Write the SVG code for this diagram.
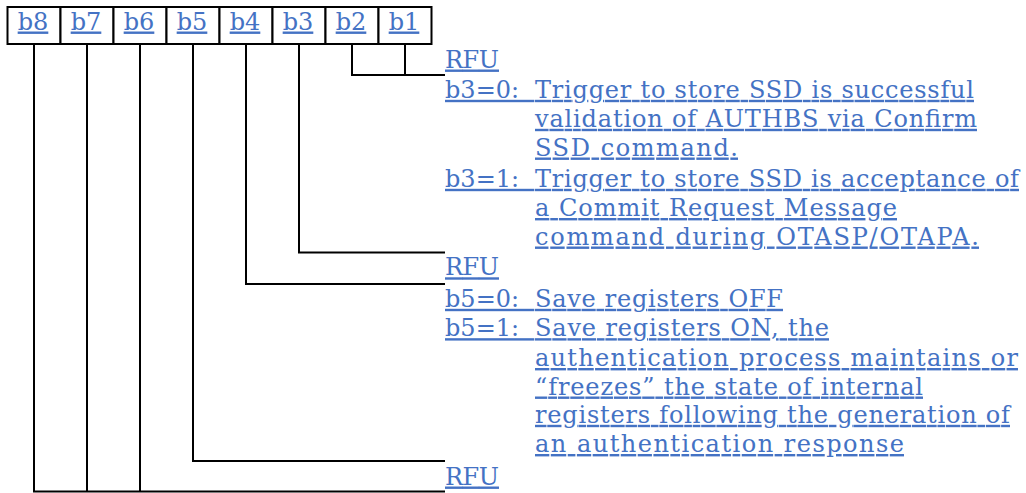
<svg xmlns="http://www.w3.org/2000/svg" width="1026" height="493" viewBox="0 0 1026 493">
<style>
.t{font-family:"DejaVu Serif","Liberation Serif",serif;font-size:24px;fill:#4472C4;text-decoration:underline;text-decoration-thickness:2px;}
.b{font-family:"DejaVu Serif","Liberation Serif",serif;font-size:24px;fill:#4472C4;text-decoration:underline;text-decoration-thickness:2px;text-anchor:middle;}
.cell{fill:#fff;stroke:#000;stroke-width:2;}
.ln{fill:none;stroke:#000;stroke-width:2;}
</style>
<rect width="1026" height="493" fill="#fff"/>
<g id="bits">
<g id="b8"><rect class="cell" x="7.5" y="7" width="53" height="37"/><text class="b" x="33" y="29.5">b8</text></g>
<g id="b7"><rect class="cell" x="60.5" y="7" width="53" height="37"/><text class="b" x="86" y="29.5">b7</text></g>
<g id="b6"><rect class="cell" x="113.5" y="7" width="53" height="37"/><text class="b" x="139" y="29.5">b6</text></g>
<g id="b5"><rect class="cell" x="166.5" y="7" width="53" height="37"/><text class="b" x="192" y="29.5">b5</text></g>
<g id="b4"><rect class="cell" x="219.5" y="7" width="53" height="37"/><text class="b" x="245" y="29.5">b4</text></g>
<g id="b3"><rect class="cell" x="272.5" y="7" width="53" height="37"/><text class="b" x="298" y="29.5">b3</text></g>
<g id="b2"><rect class="cell" x="325.5" y="7" width="53" height="37"/><text class="b" x="351" y="29.5">b2</text></g>
<g id="b1"><rect class="cell" x="378.5" y="7" width="53" height="37"/><text class="b" x="404" y="29.5">b1</text></g>
</g>
<g id="connectors">
<path class="ln" d="M352 44V75H445M405 44V75"/>
<path class="ln" d="M299 44V252.5H445"/>
<path class="ln" d="M246 44V284H445"/>
<path class="ln" d="M193 44V461H445"/>
<path class="ln" d="M34 44V491.5H445M87 44V491.5M140 44V491.5"/>
</g>
<g id="desc-b1b2"><text class="t" x="445" y="67.5" textLength="54">RFU</text></g>
<g id="desc-b3">
<text class="t" xml:space="preserve" y="97.8"><tspan x="445">b3=0:  </tspan><tspan x="535" textLength="439">Trigger to store SSD is successful</tspan></text>
<text class="t" x="535" y="126.8" textLength="442">validation of AUTHBS via Confirm</text>
<text class="t" x="535" y="155.5" textLength="203">SSD command.</text>
<text class="t" xml:space="preserve" y="186.8"><tspan x="445">b3=1:  </tspan><tspan x="535" textLength="484">Trigger to store SSD is acceptance of</tspan></text>
<text class="t" x="535" y="216" textLength="362">a Commit Request Message</text>
<text class="t" x="535" y="244.5" textLength="444">command during OTASP/OTAPA.</text>
</g>
<g id="desc-b4"><text class="t" x="445" y="275.3" textLength="54">RFU</text></g>
<g id="desc-b5">
<text class="t" xml:space="preserve" y="306.8"><tspan x="445">b5=0:  </tspan><tspan x="535" textLength="248">Save registers OFF</tspan></text>
<text class="t" xml:space="preserve" y="336.2"><tspan x="445">b5=1:  </tspan><tspan x="535" textLength="294">Save registers ON, the</tspan></text>
<text class="t" x="535" y="366" textLength="483">authentication process maintains or</text>
<text class="t" x="535" y="394.5" textLength="388">“freezes” the state of internal</text>
<text class="t" x="535" y="422.8" textLength="475">registers following the generation of</text>
<text class="t" x="535" y="452" textLength="369">an authentication response</text>
</g>
<g id="desc-b6b8"><text class="t" x="445" y="484.5" textLength="54">RFU</text></g>
</svg>
